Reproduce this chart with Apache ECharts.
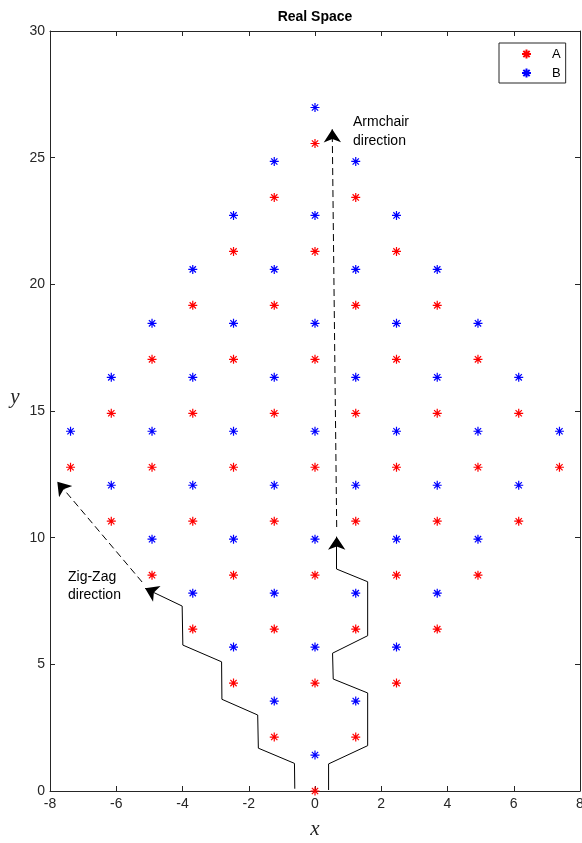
<!DOCTYPE html>
<html><head><meta charset="utf-8">
<script src="https://cdn.jsdelivr.net/npm/echarts@6/dist/echarts.min.js"></script>
<style>html,body{margin:0;padding:0;background:#fff}#c{width:582px;height:843px}</style>
</head><body><div id="c"></div>
<script>
// lattice columns (x positions) and y positions of A / B sites in each column
const colX = [-7.38, -6.15, -4.92, -3.69, -2.46, -1.23, 0, 1.23, 2.46, 3.69, 4.92, 6.15, 7.38];
const aYByCol = [
  [12.78],
  [10.65, 14.91],
  [8.52, 12.78, 17.04],
  [6.39, 10.65, 14.91, 19.17],
  [4.26, 8.52, 12.78, 17.04, 21.3],
  [2.13, 6.39, 10.65, 14.91, 19.17, 23.43],
  [0, 4.26, 8.52, 12.78, 17.04, 21.3, 25.56],
  [2.13, 6.39, 10.65, 14.91, 19.17, 23.43],
  [4.26, 8.52, 12.78, 17.04, 21.3],
  [6.39, 10.65, 14.91, 19.17],
  [8.52, 12.78, 17.04],
  [10.65, 14.91],
  [12.78]
];
const bYByCol = [
  [14.2],
  [12.07, 16.33],
  [9.94, 14.2, 18.46],
  [7.81, 12.07, 16.33, 20.59],
  [5.68, 9.94, 14.2, 18.46, 22.72],
  [3.55, 7.81, 12.07, 16.33, 20.59, 24.85],
  [1.42, 5.68, 9.94, 14.2, 18.46, 22.72, 26.98],
  [3.55, 7.81, 12.07, 16.33, 20.59, 24.85],
  [5.68, 9.94, 14.2, 18.46, 22.72],
  [7.81, 12.07, 16.33, 20.59],
  [9.94, 14.2, 18.46],
  [12.07, 16.33],
  [14.2]
];
const legendNames = ['A', 'B'];
const xRange = [-8, 8, 2];
const yRange = [0, 30, 5];

// annotation paths (data coordinates)
const zigzagEdge = [[-0.61, 0.09], [-0.62, 1.09], [-1.71, 1.69], [-1.73, 3.0], [-2.81, 3.62], [-2.82, 5.1], [-3.99, 5.76], [-4.01, 7.3]];
const zigzagEdgeArrow = [[-4.01, 7.3], [-5.13, 8.0]];
const zigzagDirection = [[-5.22, 8.25], [-7.78, 12.21]];
const armchairEdge = [[0.41, 0.04], [0.41, 1.07], [1.59, 1.79], [1.59, 3.87], [0.55, 4.42], [0.53, 5.44], [1.59, 6.13], [1.59, 8.26], [0.655, 8.76]];
const armchairEdgeArrow = [[0.655, 8.76], [0.655, 10.04]];
const armchairDirection = [[0.655, 10.42], [0.52, 26.12]];

function toPairs(xs, ysByCol) {
  const out = [];
  xs.forEach((x, i) => ysByCol[i].forEach(y => out.push([x, y])));
  return out;
}
const dataA = toPairs(colX, aYByCol);
const dataB = toPairs(colX, bYByCol);

const star = 'path://M5,0L5,10M0,5L10,5M1.5,1.5L8.5,8.5M1.5,8.5L8.5,1.5';
const axisColor = '#262626';
const font = '"Liberation Sans", Arial, Helvetica, sans-serif';
const serif = '"Liberation Serif", "DejaVu Serif", serif';

function xAx(pos, labels) {
  return {
    type: 'value', position: pos, min: xRange[0], max: xRange[1], interval: xRange[2],
    axisLine: { show: true, onZero: false, lineStyle: { color: axisColor, width: 1 } },
    axisTick: { show: true, inside: true, length: 5, lineStyle: { color: axisColor } },
    axisLabel: { show: labels, color: axisColor, fontSize: 14, fontFamily: font, margin: 6, showMinLabel: true, showMaxLabel: true },
    splitLine: { show: false }
  };
}
function yAx(pos, labels) {
  return {
    type: 'value', position: pos, min: yRange[0], max: yRange[1], interval: yRange[2],
    axisLine: { show: true, onZero: false, lineStyle: { color: axisColor, width: 1 } },
    axisTick: { show: true, inside: true, length: 5, lineStyle: { color: axisColor } },
    axisLabel: { show: labels, color: axisColor, fontSize: 14, fontFamily: font, margin: 5, showMinLabel: true, showMaxLabel: true },
    splitLine: { show: false }
  };
}

function pathLine(data) {
  return {
    type: 'line', data: data, showSymbol: false, symbol: 'none', silent: true,
    lineStyle: { color: '#000', width: 1 }, z: 1, animation: false
  };
}
function arrowLine(coords, dashed) {
  return {
    type: 'lines', coordinateSystem: 'cartesian2d', silent: true, animation: false,
    symbol: ['none', 'arrow'], symbolSize: [10, 13],
    lineStyle: { color: '#000', width: 1, type: dashed ? [7, 4] : 'solid', opacity: 1 },
    itemStyle: { color: '#000' },
    data: [{ coords: coords }], z: 1
  };
}

const chart = echarts.init(document.getElementById('c'), null, { renderer: 'canvas' });
chart.setOption({
  animation: false,
  backgroundColor: '#fff',
  grid: { left: 50, right: 2, top: 31, bottom: 52, containLabel: false, outerBoundsMode: 'none' },
  xAxis: [xAx('bottom', true), xAx('top', false)],
  yAxis: [yAx('left', true), yAx('right', false)],
  legend: {
    data: legendNames, orient: 'vertical', left: 499, top: 43,
    padding: [4, 5, 3, 22], itemGap: 5, itemWidth: 9, itemHeight: 9,
    borderColor: axisColor, borderWidth: 1, backgroundColor: '#fff',
    textStyle: { fontSize: 13, fontFamily: font, color: '#000', padding: [0, 0, 0, 16], lineHeight: 14 },
    selectedMode: false
  },
  graphic: [
    { type: 'text', x: 315, y: 17, style: { text: 'Real Space', align: 'center', verticalAlign: 'middle', font: 'bold 14px ' + font, fill: '#000' } },
    { type: 'text', x: 68, y: 568, style: { text: 'Zig-Zag\ndirection', font: '14px ' + font, lineHeight: 18, fill: '#000' } },
    { type: 'text', x: 353, y: 113, style: { text: 'Armchair\ndirection', font: '14px ' + font, lineHeight: 19, fill: '#000' } },
    { type: 'text', x: 315, y: 829, style: { text: 'x', align: 'center', verticalAlign: 'middle', font: 'italic 21px ' + serif, fill: axisColor } },
    { type: 'text', x: 15, y: 397, style: { text: 'y', align: 'center', verticalAlign: 'middle', font: 'italic 21px ' + serif, fill: axisColor } }
  ],
  series: [
    pathLine(zigzagEdge),
    pathLine(armchairEdge),
    arrowLine(zigzagEdgeArrow, false),
    arrowLine(armchairEdgeArrow, false),
    arrowLine(zigzagDirection, true),
    arrowLine(armchairDirection, true),
    {
      name: legendNames[0], type: 'scatter', data: dataA, symbol: star, symbolSize: 9,
      itemStyle: { color: 'rgba(0,0,0,0)', borderColor: '#ff0000', borderWidth: 1.2, opacity: 1 }, z: 3
    },
    {
      name: legendNames[1], type: 'scatter', data: dataB, symbol: star, symbolSize: 9,
      itemStyle: { color: 'rgba(0,0,0,0)', borderColor: '#0000ff', borderWidth: 1.2, opacity: 1 }, z: 3
    }
  ]
});
</script></body></html>
